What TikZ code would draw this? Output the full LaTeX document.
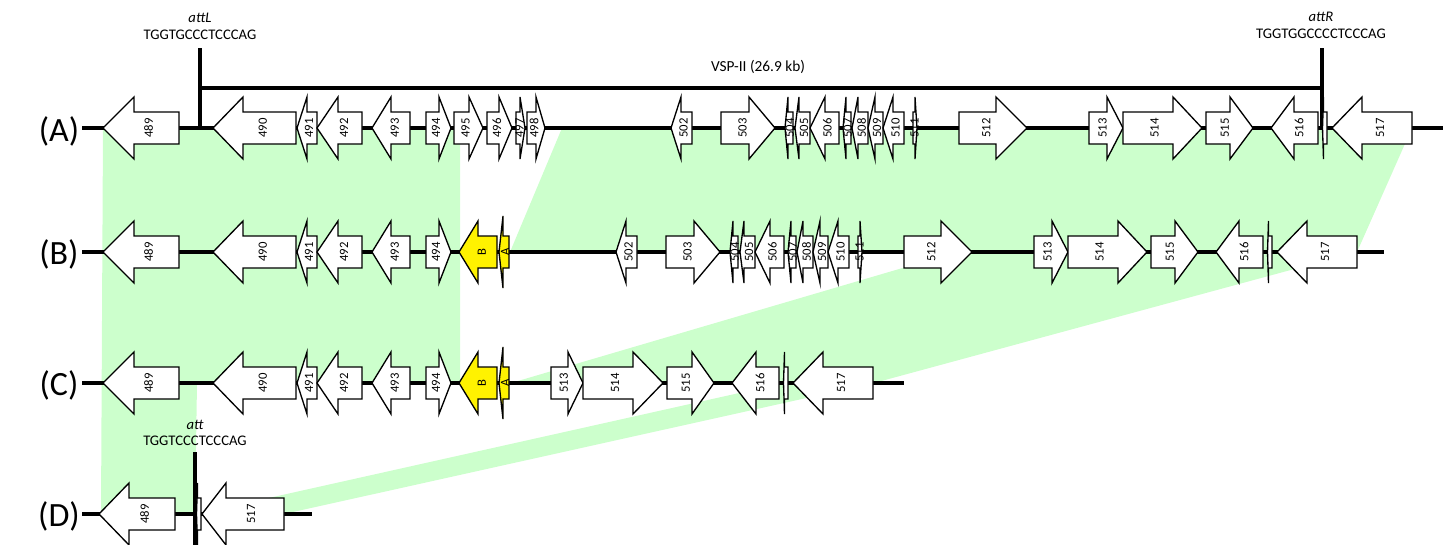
\documentclass[tikz,border=0pt]{standalone}
\usepackage{fontspec}
\setmainfont{Carlito}
\definecolor{bandgreen}{RGB}{204,255,204}
\def\rowA{128}\def\rowB{252}\def\rowC{383}\def\rowD{514}
\def\hh{31}
% #1 row, #2 fill, #3 tip, #4 head base, #5 tail, #6 label
\newcommand\gene[6]{%
  \edef\yy{\csname row#1\endcsname}%
  \draw[genebox,fill=#2] (#3,\yy) -- (#4,{\yy-\hh}) -- (#4,{\yy-16}) -- (#5,{\yy-16}) -- (#5,{\yy+16}) -- (#4,{\yy+16}) -- (#4,{\yy+\hh}) -- cycle;
  \node[glabel] (#1#6) at ({#3+0.6*(#5-#3)},\yy) {#6};}
% tiny gene without label
\newcommand\tgene[4]{%
  \edef\yy{\csname row#1\endcsname}%
  \draw[genebox,fill=white] (#2,\yy) -- (#3,{\yy-\hh}) -- (#3,{\yy-16}) -- (#4,{\yy-16}) -- (#4,{\yy+16}) -- (#3,{\yy+16}) -- (#3,{\yy+\hh}) -- cycle;}
\begin{document}
\begin{tikzpicture}[x=0.75pt,y=-0.75pt,
  genebox/.style={draw=black,line width=1pt,line join=miter},
  glabel/.style={font=\fontsize{9.5}{9.5}\selectfont,rotate=90,inner sep=0pt},
  band/.style={fill=bandgreen,draw=none},
  backbone/.style={line width=2.3pt},
  rowlabel/.style={font=\fontsize{25.5}{25.5}\selectfont,inner sep=0pt},
  txt/.style={font=\fontsize{11}{11}\selectfont,inner sep=0pt}]
\useasboundingbox (0,0) rectangle (1443,544);
% homology bands
\fill[band] (103,128) -- (460,128) -- (460,383) -- (197,383) -- (195,514) -- (101,514) -- cycle;
\fill[band] (562,128) -- (1412,128) -- (1357,252) -- (510,252) -- cycle;
\fill[band] (957,252) -- (1357,252) -- (874,383) -- (511,383) -- cycle;
\fill[band] (784,383) -- (874,383) -- (284,514) -- (197,514) -- cycle;
% backbones
\draw[backbone] (82,128) -- (1443,128);
\draw[backbone] (82,252) -- (1384,252);
\draw[backbone] (82,383) -- (904,383);
\draw[backbone] (82,514) -- (312,514);
% att sites and VSP-II bracket
\draw[backbone] (200,48) -- (200,129);
\draw[backbone] (199,88) -- (1323,88);
\draw[backbone] (1322,48) -- (1322,129);
\draw[backbone] (195,452) -- (195,546);
% row A
\gene{A}{white}{103}{134}{179}{489}
\gene{A}{white}{213}{243}{296}{490}
\gene{A}{white}{297}{307}{317}{491}
\gene{A}{white}{317}{338}{362}{492}
\gene{A}{white}{372}{391}{410}{493}
\gene{A}{white}{451}{439}{426}{494}
\gene{A}{white}{483}{469}{454}{495}
\gene{A}{white}{512}{499}{487}{496}
\gene{A}{white}{525}{520}{516}{497}
\gene{A}{white}{545}{536}{527}{498}
\gene{A}{white}{671}{681}{692}{502}
\gene{A}{white}{775}{749}{721}{503}
\gene{A}{white}{785}{788}{793}{504}
\gene{A}{white}{795}{799}{810}{505}
\gene{A}{white}{810}{825}{839}{506}
\gene{A}{white}{843}{846}{851}{507}
\gene{A}{white}{852}{858}{868}{508}
\gene{A}{white}{868}{875}{883}{509}
\gene{A}{white}{883}{893}{904}{510}
\gene{A}{white}{917}{915}{913}{511}
\gene{A}{white}{1027}{996}{959}{512}
\gene{A}{white}{1123}{1107}{1089}{513}
\gene{A}{white}{1202}{1173}{1123}{514}
\gene{A}{white}{1253}{1230}{1206}{515}
\gene{A}{white}{1271}{1294}{1318}{516}
\tgene{A}{1322.5}{1323.5}{1327}
\gene{A}{white}{1332}{1362}{1412}{517}
% row B
\gene{B}{white}{103}{134}{179}{489}
\gene{B}{white}{213}{243}{296}{490}
\gene{B}{white}{297}{307}{317}{491}
\gene{B}{white}{317}{338}{362}{492}
\gene{B}{white}{372}{391}{410}{493}
\gene{B}{white}{451}{439}{426}{494}
\gene{B}{yellow}{459}{478}{497}{B}
{\def\hh{36}\gene{B}{yellow}{499}{503}{509}{A}}
\gene{B}{white}{616}{626}{637}{502}
\gene{B}{white}{720}{694}{666}{503}
\gene{B}{white}{730}{733}{738}{504}
\gene{B}{white}{740}{744}{755}{505}
\gene{B}{white}{755}{770}{784}{506}
\gene{B}{white}{788}{791}{796}{507}
\gene{B}{white}{797}{803}{813}{508}
\gene{B}{white}{813}{820}{828}{509}
\gene{B}{white}{828}{838}{849}{510}
\gene{B}{white}{862}{860}{858}{511}
\gene{B}{white}{972}{941}{904}{512}
\gene{B}{white}{1068}{1052}{1034}{513}
\gene{B}{white}{1147}{1118}{1068}{514}
\gene{B}{white}{1198}{1175}{1151}{515}
\gene{B}{white}{1216}{1239}{1263}{516}
\tgene{B}{1267.5}{1268.5}{1272}
\gene{B}{white}{1277}{1307}{1357}{517}
% row C
\gene{C}{white}{103}{134}{179}{489}
\gene{C}{white}{213}{243}{296}{490}
\gene{C}{white}{297}{307}{317}{491}
\gene{C}{white}{317}{338}{362}{492}
\gene{C}{white}{372}{391}{410}{493}
\gene{C}{white}{451}{439}{426}{494}
\gene{C}{yellow}{459}{478}{497}{B}
{\def\hh{36}\gene{C}{yellow}{499}{503}{509}{A}}
\gene{C}{white}{583}{568}{551}{513}
\gene{C}{white}{663}{633}{583}{514}
\gene{C}{white}{714}{692}{667}{515}
\gene{C}{white}{732}{756}{779}{516}
\tgene{C}{783.5}{784.5}{788}
\gene{C}{white}{793}{823}{873}{517}
% row D
\gene{D}{white}{99}{129}{175}{489}
\tgene{D}{196.5}{197.5}{201}
\gene{D}{white}{202}{226}{284}{517}
% texts
\node[txt] (attLname) at (200,18) {\itshape attL};
\node[txt] (attLseq) at (200,35) {TGGTGCCCTCCCAG};
\node[txt] (attRname) at (1321,17) {\itshape attR};
\node[txt] (attRseq) at (1321,34) {TGGTGGCCCCTCCCAG};
\node[txt,font=\fontsize{11.5}{11.5}\selectfont] (vsp) at (758,67) {VSP-II (26.9 kb)};
\node[txt] (attname) at (195,425) {\itshape att};
\node[txt] (attseq) at (195,441) {TGGTCCCTCCCAG};
\node[rowlabel] (labA) at (59,131) {(A)};
\node[rowlabel] (labB) at (59,254) {(B)};
\node[rowlabel] (labC) at (59,385) {(C)};
\node[rowlabel] (labD) at (59,516) {(D)};
\end{tikzpicture}
\end{document}
